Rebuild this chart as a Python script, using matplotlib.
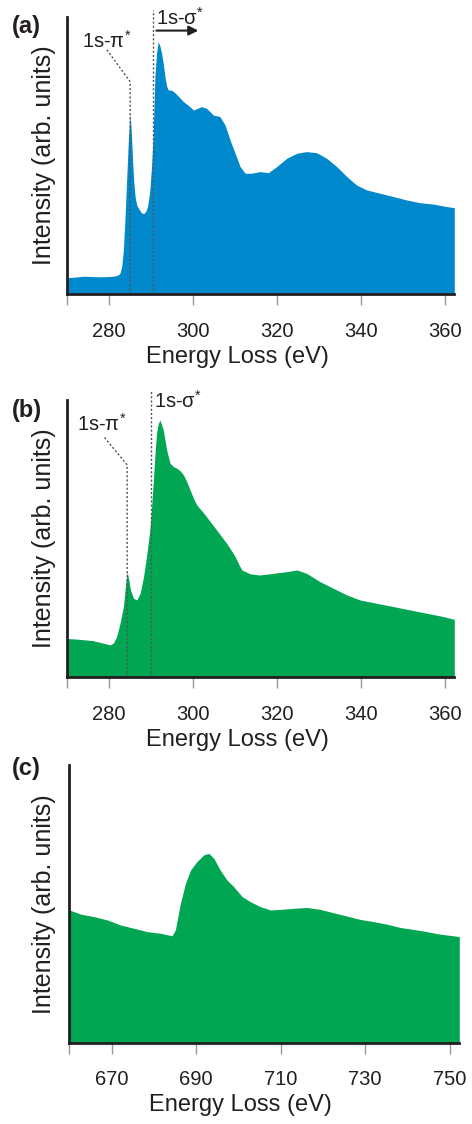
import matplotlib
matplotlib.use("Agg")
import matplotlib.pyplot as plt

plt.rcParams['font.family'] = ['Liberation Sans', 'DejaVu Sans']
plt.rcParams['mathtext.fontset'] = 'custom'
plt.rcParams['mathtext.rm'] = 'Liberation Sans'
plt.rcParams['mathtext.it'] = 'Liberation Sans'
plt.rcParams['mathtext.bf'] = 'Liberation Sans:bold'

# ---------------- data ----------------
a_energy = [270.0, 272.0, 274.0, 276.0, 278.0, 280.0, 281.5, 282.3, 282.7, 283.1, 283.5, 283.9,
            284.3, 284.7, 285.1, 285.4, 285.7, 286.0, 286.3, 286.7, 287.1, 287.7, 288.3, 288.8,
            289.2, 289.5, 289.8, 290.2, 290.5, 290.8, 291.0, 291.4, 291.8, 292.2, 292.6, 293.0,
            293.4, 293.8, 294.2, 295.0, 295.8, 296.8, 297.8, 299.0, 300.2, 301.2, 302.1, 303.3,
            304.9, 306.5, 307.7, 308.9, 310.1, 311.3, 312.5, 314.0, 316.0, 318.0, 320.0, 322.4,
            324.8, 327.1, 329.5, 331.9, 334.3, 336.7, 339.0, 341.4, 344.6, 347.8, 350.9, 354.1,
            357.3, 360.5, 362.3]
a_intensity = [0.060, 0.062, 0.065, 0.064, 0.063, 0.064, 0.066, 0.070, 0.076, 0.100, 0.160, 0.280,
               0.420, 0.560, 0.652, 0.580, 0.480, 0.400, 0.350, 0.320, 0.310, 0.295, 0.290, 0.298,
               0.315, 0.340, 0.376, 0.460, 0.544, 0.680, 0.784, 0.870, 0.910, 0.895, 0.868, 0.830,
               0.784, 0.750, 0.736, 0.735, 0.726, 0.710, 0.694, 0.680, 0.664, 0.670, 0.676, 0.670,
               0.646, 0.640, 0.610, 0.556, 0.508, 0.460, 0.436, 0.436, 0.442, 0.438, 0.460, 0.490,
               0.508, 0.514, 0.510, 0.490, 0.460, 0.424, 0.394, 0.376, 0.364, 0.352, 0.340, 0.330,
               0.325, 0.316, 0.312]

b_energy = [270.0, 273.0, 276.3, 278.7, 280.3, 281.1, 281.9, 282.7, 283.5, 284.0, 284.4, 284.8,
            285.2, 285.9, 286.7, 287.5, 288.3, 289.0, 289.8, 290.2, 290.6, 291.0, 291.4, 291.8,
            292.2, 292.6, 293.0, 293.8, 294.6, 295.4, 296.2, 297.0, 297.8, 298.6, 299.4, 300.2,
            301.0, 302.2, 303.3, 304.5, 305.7, 306.9, 308.1, 309.1, 310.1, 310.9, 311.7, 313.7,
            316.0, 319.2, 322.4, 324.8, 327.1, 330.3, 333.5, 336.7, 339.8, 343.8, 347.8, 351.7,
            355.7, 359.7, 362.3]
b_intensity = [0.140, 0.137, 0.132, 0.123, 0.117, 0.123, 0.147, 0.195, 0.255, 0.330, 0.381, 0.350,
               0.315, 0.285, 0.279, 0.303, 0.363, 0.435, 0.531, 0.610, 0.700, 0.800, 0.880, 0.915,
               0.928, 0.910, 0.892, 0.820, 0.772, 0.760, 0.754, 0.745, 0.730, 0.705, 0.675, 0.645,
               0.621, 0.600, 0.579, 0.555, 0.531, 0.507, 0.483, 0.460, 0.435, 0.410, 0.387, 0.373,
               0.369, 0.375, 0.381, 0.387, 0.375, 0.345, 0.321, 0.297, 0.279, 0.267, 0.255, 0.243,
               0.231, 0.219, 0.209]

c_energy = [660.0, 662.7, 665.8, 669.0, 672.1, 675.3, 678.4, 681.6, 684.3, 685.1, 686.3, 687.5,
            688.7, 690.2, 691.8, 693.0, 694.2, 695.7, 697.3, 698.9, 700.9, 702.8, 705.2, 707.6,
            709.9, 713.1, 716.2, 719.4, 722.5, 725.7, 728.8, 732.0, 735.1, 738.3, 741.4, 744.6,
            747.7, 750.9, 752.3]
c_intensity = [0.478, 0.463, 0.454, 0.442, 0.424, 0.412, 0.400, 0.394, 0.385, 0.406, 0.502, 0.574,
               0.622, 0.652, 0.676, 0.682, 0.664, 0.622, 0.586, 0.562, 0.526, 0.508, 0.490, 0.478,
               0.480, 0.484, 0.487, 0.480, 0.468, 0.456, 0.444, 0.436, 0.427, 0.415, 0.408, 0.400,
               0.391, 0.385, 0.382]

ab_ticks = [270, 280, 300, 320, 340, 360]
ab_ticklabels = ['', '280', '300', '320', '340', '360']
c_ticks = [660, 670, 690, 710, 730, 750]
c_ticklabels = ['', '670', '690', '710', '730', '750']

panel_labels = ['(a)', '(b)', '(c)']
xlabel = 'Energy Loss (eV)'
ylabel = 'Intensity (arb. units)'

BLUE = '#0088CC'
GREEN = '#00A651'
DARK = '#231F20'

W, H = 472, 1124
fig = plt.figure(figsize=(W / 100, H / 100), dpi=100)

rects = [
    [66.7 / W, 1 - 294.3 / H, 387.6 / W, 277.6 / H],
    [66.7 / W, 1 - 677.3 / H, 387.6 / W, 277.3 / H],
    [69.3 / W, 1 - 1042.7 / H, 390.0 / W, 277.7 / H],
]
label_y = [26, 410, 768]
ylabel_x = 44
datasets = [(a_energy, a_intensity, BLUE, (270, 362.3), ab_ticks, ab_ticklabels),
            (b_energy, b_intensity, GREEN, (270, 362.3), ab_ticks, ab_ticklabels),
            (c_energy, c_intensity, GREEN, (660, 752.3), c_ticks, c_ticklabels)]

axes = []
for i, (rect, (xe, yi, col, xl, tk, tkl)) in enumerate(zip(rects, datasets)):
    ax = fig.add_axes(rect)
    ax.fill_between(xe, 0, yi, color=col, lw=0)
    ax.set_xlim(*xl)
    ax.set_ylim(0, 1)
    for s in ['top', 'right']:
        ax.spines[s].set_visible(False)
    for s in ['left', 'bottom']:
        ax.spines[s].set_linewidth(2.0)
        ax.spines[s].set_color(DARK)
        ax.spines[s].set_zorder(5)
    ax.set_yticks([])
    ax.set_xticks(tk)
    ax.set_xticklabels(tkl)
    ax.tick_params(axis='x', direction='out', length=8, width=1, color='#9A9A9A',
                   labelsize=14.5, pad=12, labelcolor=DARK)
    ax.set_xlabel(xlabel, fontsize=17, color=DARK)
    ax.xaxis.set_label_coords(0.44, -0.185)
    fig.text(ylabel_x / W, rect[1] + rect[3] / 2, ylabel, fontsize=18, color=DARK,
             rotation=90, ha='center', va='center')
    fig.text(12 / W, 1 - label_y[i] / H,
             panel_labels[i], fontsize=17, fontweight='bold', color=DARK,
             ha='left', va='center')
    axes.append(ax)

dot_kw = dict(color='#555555', lw=1.0, ls=(0, (1.5, 1.5)), clip_on=False, zorder=4)

# panel (a) annotations
ax = axes[0]
ax.plot([285.1, 285.1, 279.5], [0.0, 0.766, 0.882], **dot_kw)
ax.plot([290.6, 290.6], [0.0, 1.024], **dot_kw)
ax.text(279.5, 0.913, '1s-π$^{*}$', fontsize=14.5, ha='center', va='center', color=DARK)
ax.text(291.2, 0.997, '1s-σ$^{*}$', fontsize=14.5, ha='left', va='center', color=DARK,
        clip_on=False)
ax.annotate('', xy=(302.0, 0.95), xytext=(290.7, 0.95),
            arrowprops=dict(arrowstyle='-|>', color=DARK, lw=1.5, mutation_scale=14),
            annotation_clip=False)

# panel (b) annotations
ax = axes[1]
ax.plot([284.4, 284.4, 278.7], [0.0, 0.766, 0.870], **dot_kw)
ax.plot([290.0, 290.0], [0.0, 1.036], **dot_kw)
ax.text(278.4, 0.913, '1s-π$^{*}$', fontsize=14.5, ha='center', va='center', color=DARK)
ax.text(290.9, 0.998, '1s-σ$^{*}$', fontsize=14.5, ha='left', va='center', color=DARK,
        clip_on=False)

fig.savefig('out.png', dpi=100)
